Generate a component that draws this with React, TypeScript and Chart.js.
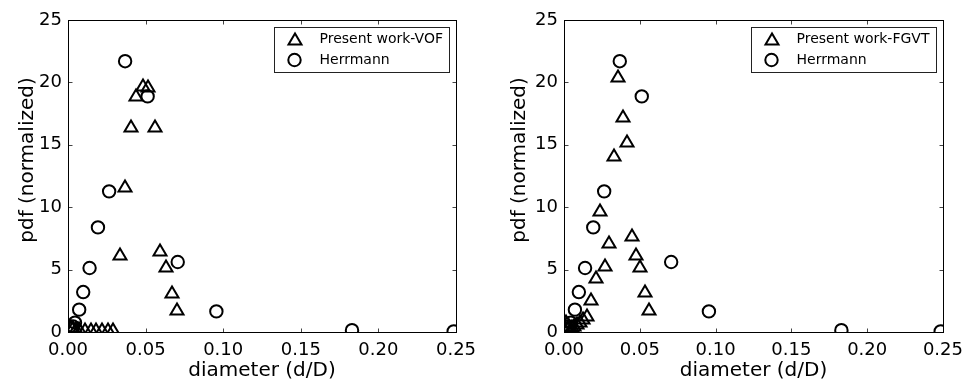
import React, { useEffect, useRef } from "react";
import { Chart, registerables } from "chart.js";

Chart.register(...registerables);

const FONT = '"DejaVu Sans", "Liberation Sans", sans-serif';

const X_TICKS = [0, 0.05, 0.1, 0.15, 0.2, 0.25];
const Y_TICKS = [0, 5, 10, 15, 20, 25];
const X_TITLE = "diameter (d/D)";
const Y_TITLE = "pdf (normalized)";
const HERRMANN_LABEL = "Herrmann";
const VOF_LABEL = "Present work-VOF";
const FGVT_LABEL = "Present work-FGVT";

// Herrmann reference data (same in both panels)
const herrmannX = [0.0022, 0.0032, 0.0045, 0.0072, 0.0098, 0.0139, 0.0193, 0.0265, 0.0368, 0.0513, 0.0707, 0.0956, 0.183, 0.2485];
const herrmannY = [0.25, 0.45, 0.75, 1.79, 3.2, 5.13, 8.38, 11.27, 21.7, 18.88, 5.61, 1.65, 0.15, 0.05];

// Present work - VOF (left panel)
const vofX = [0.002, 0.0035, 0.005, 0.007, 0.0108, 0.0145, 0.0183, 0.0222, 0.0255, 0.0292, 0.0334, 0.037, 0.0409, 0.0441, 0.0484, 0.0516, 0.056, 0.0592, 0.063, 0.0667, 0.0703];
const vofY = [0.5, 0.4, 0.35, 0.3, 0.28, 0.28, 0.28, 0.28, 0.28, 0.28, 6.27, 11.72, 16.48, 19.0, 19.8, 19.73, 16.53, 6.54, 5.26, 3.17, 1.84];

// Present work - FGVT (right panel)
const fgvtX = [0.0015, 0.0025, 0.0035, 0.005, 0.0065, 0.0085, 0.0105, 0.0125, 0.015, 0.0178, 0.021, 0.0238, 0.0268, 0.0296, 0.0328, 0.0358, 0.0388, 0.0417, 0.0446, 0.0472, 0.0502, 0.0532, 0.056];
const fgvtY = [0.9, 0.3, 0.6, 0.45, 0.55, 0.7, 0.85, 1.1, 1.39, 2.64, 4.4, 9.8, 5.39, 7.21, 14.15, 20.54, 17.33, 15.33, 7.74, 6.25, 5.31, 3.31, 1.84];

function makeTriangle(): HTMLCanvasElement {
  const c = document.createElement("canvas");
  c.width = 18;
  c.height = 16;
  const ctx = c.getContext("2d")!;
  ctx.strokeStyle = "#000";
  ctx.lineWidth = 2;
  ctx.lineJoin = "miter";
  ctx.beginPath();
  ctx.moveTo(9, 2.5);
  ctx.lineTo(2.5, 13.5);
  ctx.lineTo(15.5, 13.5);
  ctx.closePath();
  ctx.stroke();
  return c;
}

const framePlugin = {
  id: "frame",
  beforeDatasetsDraw(chart: any) {
    chart.ctx.imageSmoothingEnabled = false;
  },
  afterDatasetsDraw(chart: any) {
    const ctx = chart.ctx;
    ctx.imageSmoothingEnabled = true;
    const ca = chart.chartArea;
    const xs = chart.scales.x;
    const ys = chart.scales.y;
    const L = Math.round(ca.left) + 0.5;
    const R = Math.round(ca.right) + 0.5;
    const T = Math.round(ca.top) + 0.5;
    const B = Math.round(ca.bottom) + 0.5;
    ctx.save();
    ctx.strokeStyle = "#444";
    ctx.lineWidth = 1;
    ctx.beginPath();
    X_TICKS.forEach((v) => {
      const px = Math.round(xs.getPixelForValue(v)) + 0.5;
      ctx.moveTo(px, B);
      ctx.lineTo(px, B - 4);
      ctx.moveTo(px, T);
      ctx.lineTo(px, T + 4);
    });
    Y_TICKS.forEach((v) => {
      const py = Math.round(ys.getPixelForValue(v)) + 0.5;
      ctx.moveTo(L, py);
      ctx.lineTo(L + 4, py);
      ctx.moveTo(R, py);
      ctx.lineTo(R - 4, py);
    });
    ctx.stroke();
    ctx.strokeStyle = "#000";
    ctx.strokeRect(L, T, R - L, B - T);
    ctx.restore();
  },
  afterDraw(chart: any, _args: any, opts: any) {
    const ctx = chart.ctx;
    const ca = chart.chartArea;
    ctx.save();
    // legend
    ctx.font = `14px ${FONT}`;
    const datasets = chart.data.datasets;
    const tw = Math.max(...datasets.map((d: any) => ctx.measureText(d.label).width));
    const boxW = Math.round(45 + tw + 7);
    const boxH = 45;
    const bx = Math.round(ca.right - 7 - boxW) + 0.5;
    const by = Math.round(ca.top + 7) + 0.5;
    ctx.fillStyle = "#fff";
    ctx.fillRect(bx, by, boxW, boxH);
    ctx.strokeStyle = "#222";
    ctx.lineWidth = 1;
    ctx.strokeRect(bx, by, boxW, boxH);
    datasets.forEach((d: any, i: number) => {
      const cy = by + 11.5 + i * 21;
      const mx = bx + 20;
      if (d.pointStyle instanceof HTMLCanvasElement) {
        const im = d.pointStyle as HTMLCanvasElement;
        ctx.drawImage(im, Math.round(mx - im.width / 2), Math.round(cy - im.height / 2));
      } else {
        ctx.beginPath();
        ctx.strokeStyle = "#000";
        ctx.lineWidth = 2;
        ctx.arc(mx, cy, d.pointRadius, 0, Math.PI * 2);
        ctx.stroke();
      }
      ctx.fillStyle = "#000";
      ctx.textAlign = "left";
      ctx.textBaseline = "middle";
      ctx.fillText(d.label, bx + 45, cy);
    });
    // axis titles
    ctx.fillStyle = "#000";
    ctx.font = `20px ${FONT}`;
    ctx.textAlign = "center";
    ctx.textBaseline = "alphabetic";
    ctx.fillText(X_TITLE, (ca.left + ca.right) / 2, 376);
    ctx.save();
    ctx.translate(opts.yTitleX, 160);
    ctx.rotate(-Math.PI / 2);
    ctx.fillText(Y_TITLE, 0, 0);
    ctx.restore();
    ctx.restore();
  },
};

type PanelProps = {
  left: number;
  width: number;
  triLabel: string;
  triX: number[];
  triY: number[];
  yAxisWidth: number;
  padRight: number;
  yTitleX: number;
};

function Panel({ left, width, triLabel, triX, triY, yAxisWidth, padRight, yTitleX }: PanelProps) {
  const ref = useRef<HTMLCanvasElement>(null);
  useEffect(() => {
    const tri = makeTriangle();
    const chart = new Chart(ref.current!, {
      type: "scatter",
      data: {
        datasets: [
          {
            label: triLabel,
            data: triX.map((x, i) => ({ x, y: triY[i] })),
            pointStyle: tri as any,
            pointRadius: 8,
            borderColor: "#000",
            backgroundColor: "rgba(0,0,0,0)",
            clip: 0 as any,
          },
          {
            label: HERRMANN_LABEL,
            data: herrmannX.map((x, i) => ({ x, y: herrmannY[i] })),
            pointStyle: "circle",
            pointRadius: 6.2,
            borderWidth: 2,
            borderColor: "#000",
            backgroundColor: "rgba(0,0,0,0)",
            clip: 0 as any,
          },
        ],
      },
      options: {
        responsive: false,
        animation: false,
        devicePixelRatio: 1,
        events: [],
        layout: { padding: { top: 20, right: padRight, left: 0, bottom: 0 } },
        plugins: {
          legend: { display: false },
          tooltip: { enabled: false },
          frame: { yTitleX } as any,
        } as any,
        scales: {
          x: {
            type: "linear",
            min: 0,
            max: 0.25,
            afterBuildTicks: (s: any) => {
              s.ticks = X_TICKS.map((v) => ({ value: v }));
            },
            afterFit: (s: any) => {
              s.height = 54;
            },
            grid: { display: false, drawTicks: false },
            border: { display: false },
            ticks: {
              padding: 8,
              color: "#000",
              font: { size: 18, family: FONT },
              maxRotation: 0,
              autoSkip: false,
              callback: (v: any) => Number(v).toFixed(2),
            },
          },
          y: {
            type: "linear",
            min: 0,
            max: 25,
            afterBuildTicks: (s: any) => {
              s.ticks = Y_TICKS.map((v) => ({ value: v }));
            },
            afterFit: (s: any) => {
              s.width = yAxisWidth;
            },
            grid: { display: false, drawTicks: false },
            border: { display: false },
            ticks: {
              padding: 6,
              color: "#000",
              font: { size: 18, family: FONT },
              autoSkip: false,
              callback: (v: any) => String(v),
            },
          },
        },
      },
      plugins: [framePlugin as any],
    });
    return () => chart.destroy();
  }, []);
  return (
    <div style={{ position: "absolute", left, top: 0, width, height: 386 }}>
      <canvas ref={ref} width={width} height={386} style={{ display: "block" }} />
    </div>
  );
}

export default function App() {
  return (
    <div style={{ position: "absolute", left: 0, top: 0, width: 971, height: 386, background: "#fff" }}>
      <Panel left={0} width={485} triLabel={VOF_LABEL} triX={vofX} triY={vofY} yAxisWidth={68} padRight={29} yTitleX={33} />
      <Panel left={485} width={486} triLabel={FGVT_LABEL} triX={fgvtX} triY={fgvtY} yAxisWidth={79} padRight={19} yTitleX={40} />
    </div>
  );
}
